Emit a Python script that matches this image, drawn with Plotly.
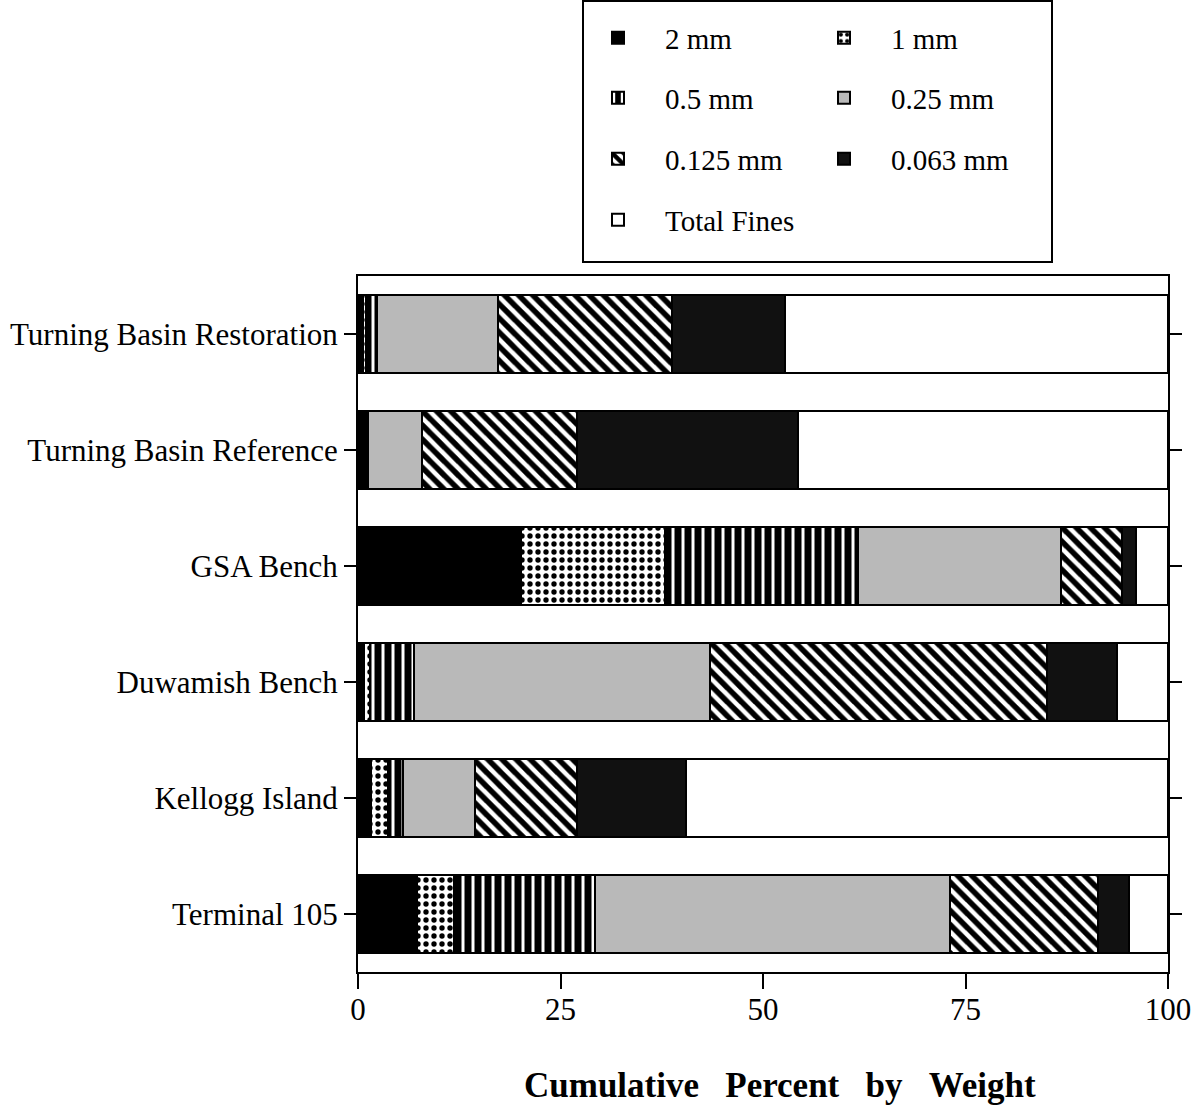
import plotly.graph_objects as go

sites = ["Turning Basin Restoration", "Turning Basin Reference", "GSA Bench",
         "Duwamish Bench", "Kellogg Island", "Terminal 105"]
x_ticks = [0, 25, 50, 75, 100]

mm_2 = [0.6, 0.5, 20.1, 0.8, 1.6, 7.3]
mm_1 = [0.4, 0.3, 17.8, 0.7, 2.1, 4.6]
mm_05 = [1.3, 0.4, 23.8, 5.4, 1.8, 17.4]
mm_025 = [15.0, 6.7, 25.1, 36.6, 8.9, 43.8]
mm_0125 = [21.5, 19.1, 7.5, 41.6, 12.6, 18.3]
mm_0063 = [13.9, 27.3, 1.7, 8.6, 13.5, 3.8]
total_fines = [47.3, 45.7, 4.0, 6.3, 59.5, 4.8]

series = [
    ("2 mm", mm_2, dict(color="black"), "legend"),
    ("1 mm", mm_1, dict(color="white", pattern=dict(shape=".", fgcolor="black", bgcolor="white",
                                                     size=8, solidity=0.35, fillmode="replace")), "legend"),
    ("0.5 mm", mm_05, dict(color="black", pattern=dict(shape="|", fgcolor="white", bgcolor="black",
                                                        size=10, solidity=0.3, fillmode="replace")), "legend2"),
    ("0.25 mm", mm_025, dict(color="#b9b9b9"), "legend2"),
    ("0.125 mm", mm_0125, dict(color="white", pattern=dict(shape="\\", fgcolor="black", bgcolor="white",
                                                            size=10, solidity=0.55, fillmode="replace")), "legend3"),
    ("0.063 mm", mm_0063, dict(color="#111111"), "legend3"),
    ("Total Fines", total_fines, dict(color="white"), "legend4"),
]

fig = go.Figure()
for name, vals, marker, lg in series:
    m = dict(marker)
    m["line"] = dict(color="black", width=2)
    fig.add_trace(go.Bar(y=sites, x=vals, name=name, orientation="h",
                         marker=m, legend=lg, hoverinfo="x+y+name"))

font_family = "Liberation Serif, Times New Roman, serif"

PLOT_L, PLOT_R, PLOT_T, PLOT_B = 358, 1168, 276, 972
PH = PLOT_B - PLOT_T
PW = PLOT_R - PLOT_L


def py(ypx):
    return (PLOT_B - ypx) / PH


def px(xpx):
    return (xpx - PLOT_L) / PW


legend_common = dict(orientation="h", xanchor="left", yanchor="middle",
                     x=px(571), entrywidth=127, entrywidthmode="pixels",
                     font=dict(family=font_family, size=29, color="black"),
                     bgcolor="rgba(0,0,0,0)", borderwidth=0, itemwidth=84,
                     traceorder="normal")

layout_legends = {}
for key, ypx in [("legend", 38), ("legend2", 98), ("legend3", 159), ("legend4", 220)]:
    d = dict(legend_common)
    d["y"] = py(ypx)
    layout_legends[key] = d

fig.update_layout(
    width=1197, height=1111,
    margin=dict(l=PLOT_L, r=1197 - PLOT_R, t=PLOT_T, b=1111 - PLOT_B, autoexpand=False),
    barmode="stack", bargap=0.33,
    plot_bgcolor="white", paper_bgcolor="white",
    font=dict(family=font_family, size=28, color="black"),
    showlegend=True,
    **layout_legends,
)

fig.update_xaxes(range=[0, 100], tickvals=x_ticks, ticktext=[str(v) for v in x_ticks],
                 showgrid=False, zeroline=False, showline=True, linecolor="black", linewidth=2,
                 mirror=True, ticks="outside", ticklen=15, tickwidth=2, tickcolor="black",
                 ticklabelstandoff=-6,
                 tickfont=dict(family=font_family, size=31, color="black"))
fig.update_yaxes(autorange="reversed", showgrid=False, zeroline=False, showline=True,
                 linecolor="black", linewidth=2, mirror="allticks", ticks="outside",
                 ticklen=12, tickwidth=2, tickcolor="black",
                 tickfont=dict(family=font_family, size=31, color="black"))

# legend frame
fig.add_shape(type="rect", xref="paper", yref="paper",
              x0=px(583), x1=px(1052), y0=py(262), y1=py(1),
              line=dict(color="black", width=2), fillcolor="rgba(0,0,0,0)", layer="above")

fig.add_annotation(text="<b>Cumulative&nbsp;&nbsp;&nbsp;Percent&nbsp;&nbsp;&nbsp;by&nbsp;&nbsp;&nbsp;Weight</b>",
                   xref="paper", yref="paper", x=px(780), y=py(1085),
                   xanchor="center", yanchor="middle", showarrow=False,
                   font=dict(family=font_family, size=35, color="black"))

fig.write_html("out.html")
